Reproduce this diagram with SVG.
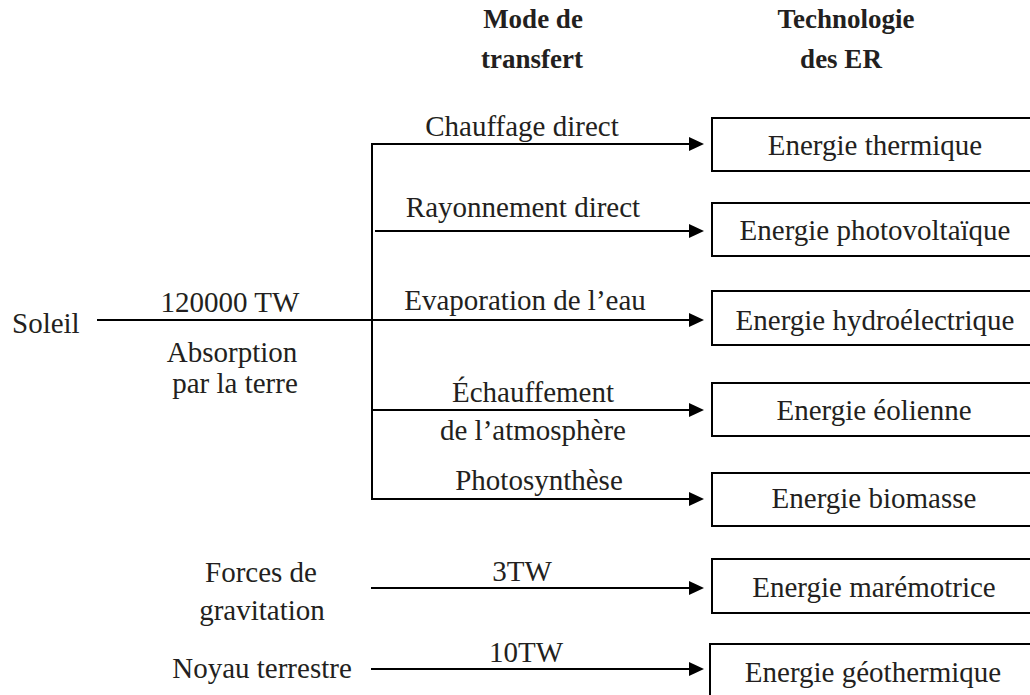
<svg xmlns="http://www.w3.org/2000/svg" width="1030" height="695" viewBox="0 0 1030 695">
  <style>
    text { font-family: "Liberation Serif", "Times New Roman", serif; font-size: 29px; fill: #231f20; text-anchor: middle; }
    .head { font-weight: bold; font-size: 27px; }
    .src { text-anchor: start; }
    .link { fill: none; stroke: #000; stroke-width: 2; }
    .box rect { fill: #fff; stroke: #000; stroke-width: 2; }
  </style>
  <defs>
    <marker id="arrow" markerUnits="userSpaceOnUse" markerWidth="15" markerHeight="14" refX="3" refY="7" orient="auto">
      <path d="M0,0 L15,7 L0,14 z" fill="#000"/>
    </marker>
  </defs>

  <rect width="1030" height="695" fill="#fff"/>

  <!-- column headings -->
  <g id="heading-transfer">
    <text class="head" x="533" y="28">Mode de</text>
    <text class="head" x="532" y="68">transfert</text>
  </g>
  <g id="heading-technology">
    <text class="head" x="846" y="28">Technologie</text>
    <text class="head" x="841" y="68">des ER</text>
  </g>

  <!-- sources -->
  <g id="soleil">
    <text class="src" x="12" y="333">Soleil</text>
    <text x="230" y="312">120000 TW</text>
    <text x="232" y="362">Absorption</text>
    <text x="235" y="393">par la terre</text>
  </g>
  <g id="gravitation">
    <text x="261" y="582">Forces de</text>
    <text x="262" y="620">gravitation</text>
  </g>
  <g id="noyau">
    <text x="262" y="678">Noyau terrestre</text>
  </g>

  <!-- connectors -->
  <g id="connectors">
    <path class="link" d="M372,143 V500"/>
    <path class="link" d="M372,144 H692" marker-end="url(#arrow)"/>
    <path class="link" d="M375,231 H692" marker-end="url(#arrow)"/>
    <path class="link" d="M97,320 H692" marker-end="url(#arrow)"/>
    <path class="link" d="M372,410 H692" marker-end="url(#arrow)"/>
    <path class="link" d="M372,499 H692" marker-end="url(#arrow)"/>
    <path class="link" d="M371,588 H692" marker-end="url(#arrow)"/>
    <path class="link" d="M371,669 H692" marker-end="url(#arrow)"/>
  </g>

  <!-- transfer mode labels -->
  <g id="labels">
    <text x="522" y="136">Chauffage direct</text>
    <text x="523" y="217">Rayonnement direct</text>
    <text x="525" y="310">Evaporation de l’eau</text>
    <text x="533" y="402">Échauffement</text>
    <text x="533" y="440">de l’atmosphère</text>
    <text x="539" y="490">Photosynthèse</text>
    <text x="522" y="581">3TW</text>
    <text x="526" y="662">10TW</text>
  </g>

  <!-- technology boxes -->
  <g id="thermique" class="box">
    <rect x="712" y="118" width="330" height="53"/>
    <text x="875" y="155">Energie thermique</text>
  </g>
  <g id="photovoltaique" class="box">
    <rect x="712" y="203" width="330" height="53"/>
    <text x="875" y="240">Energie photovoltaïque</text>
  </g>
  <g id="hydroelectrique" class="box">
    <rect x="712" y="291" width="330" height="54"/>
    <text x="875" y="330">Energie hydroélectrique</text>
  </g>
  <g id="eolienne" class="box">
    <rect x="712" y="383" width="330" height="53"/>
    <text x="874" y="420">Energie éolienne</text>
  </g>
  <g id="biomasse" class="box">
    <rect x="712" y="473" width="330" height="53"/>
    <text x="874" y="508">Energie biomasse</text>
  </g>
  <g id="maremotrice" class="box">
    <rect x="712" y="559" width="330" height="54"/>
    <text x="874" y="597">Energie marémotrice</text>
  </g>
  <g id="geothermique" class="box">
    <rect x="710" y="644" width="330" height="60"/>
    <text x="873" y="682">Energie géothermique</text>
  </g>
</svg>
